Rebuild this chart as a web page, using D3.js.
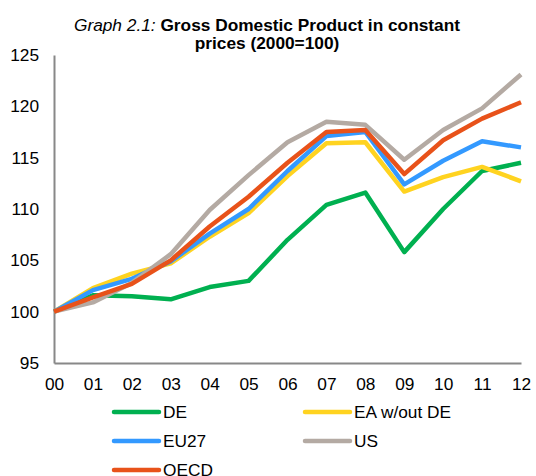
<!DOCTYPE html>
<html><head><meta charset="utf-8">
<script src="https://cdn.jsdelivr.net/npm/d3@7"></script>
<style>body{margin:0;background:#fff}svg{display:block;font-family:"Liberation Sans",Arial,sans-serif}</style>
</head><body><svg id="c" width="536" height="476"></svg>
<script>
const years = ["00","01","02","03","04","05","06","07","08","09","10","11","12"];
const DE   = [100,101.6,101.5,101.2,102.4,103.0,107.0,110.4,111.6,105.8,110.0,113.7,114.5];
const EAxDE= [100,102.3,103.7,104.7,107.3,109.6,113.2,116.4,116.5,111.7,113.1,114.1,112.7];
const EU27 = [100,102.1,103.2,104.9,107.6,110.0,113.7,117.1,117.5,112.4,114.7,116.6,116.0];
const US   = [100,100.9,102.8,105.6,109.9,113.3,116.5,118.5,118.2,114.8,117.7,119.8,123.1];
const OECD = [100,101.4,102.7,105.0,108.3,111.2,114.5,117.5,117.7,113.4,116.7,118.8,120.4];
const yTicks = [95,100,105,110,115,120,125];
const seriesNames = ["DE","EA w/out DE","EU27","US","OECD"];
const seriesColors = ["#00B050","#FFD320","#3399FF","#B4AAA3","#E8521A"];
const seriesData = [DE,EAxDE,EU27,US,OECD];

const svg = d3.select("#c");
const x = d3.scaleLinear().domain([0,years.length-1]).range([54,521]);
const y = d3.scaleLinear().domain([95,125]).range([363,55]);
const FS = 17.3;

// title
const t = svg.append("text").attr("x",267).attr("y",31).attr("text-anchor","middle").attr("font-size",FS).attr("fill","#000");
t.append("tspan").attr("font-style","italic").text("Graph 2.1: ");
t.append("tspan").attr("font-weight","bold").text("Gross Domestic Product in constant");
svg.append("text").attr("x",267).attr("y",49).attr("text-anchor","middle").attr("font-size",FS).attr("font-weight","bold").text("prices (2000=100)");

// axes
const yAxis = svg.append("g").attr("transform","translate(54,0)").call(d3.axisLeft(y).tickValues(yTicks).tickSize(0).tickPadding(15).tickFormat(d3.format("d")));
const xAxis = svg.append("g").attr("transform","translate(0,363)").call(d3.axisBottom(x).ticks(12).tickSize(0).tickPadding(15).tickFormat(i=>years[i]));
[yAxis,xAxis].forEach(g=>{
  g.select(".domain").attr("stroke","#888").attr("stroke-width",2);
  g.selectAll("text").attr("font-size",FS).attr("fill","#000").attr("font-family","Liberation Sans, Arial, sans-serif");
});

const line = d3.line().x((d,i)=>x(i)).y(d=>y(d));
seriesData.forEach((s,k)=>{
  svg.append("path").datum(s).attr("d",line).attr("fill","none").attr("stroke",seriesColors[k]).attr("stroke-width",4.5).attr("stroke-linejoin","round");
});

// legend
const legPos = [[114,412],[305,412],[114,441],[305,441],[114,470]];
seriesNames.forEach((n,k)=>{
  const [lx,ly] = legPos[k];
  svg.append("line").attr("x1",lx).attr("x2",lx+45).attr("y1",ly).attr("y2",ly).attr("stroke",seriesColors[k]).attr("stroke-width",4.5).attr("stroke-linecap","round");
  svg.append("text").attr("x",lx+49).attr("y",ly+6).attr("font-size",FS).attr("fill","#000").text(n);
});
</script></body></html>
